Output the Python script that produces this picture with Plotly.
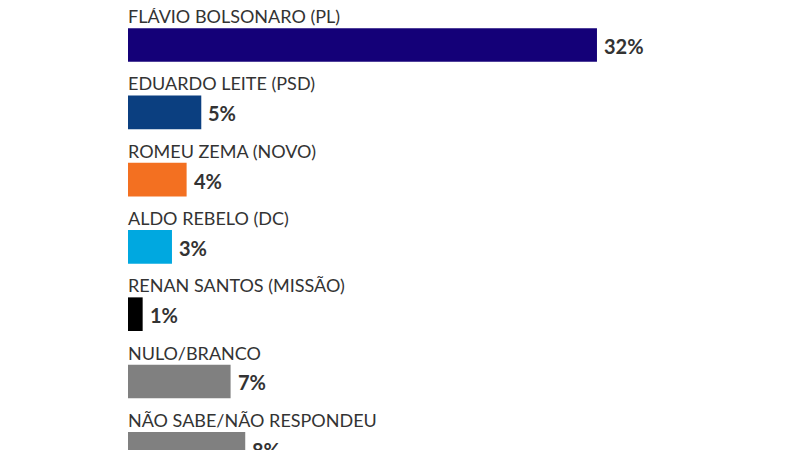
import plotly.graph_objects as go

candidates = ['FLÁVIO BOLSONARO (PL)', 'EDUARDO LEITE (PSD)', 'ROMEU ZEMA (NOVO)',
              'ALDO REBELO (DC)', 'RENAN SANTOS (MISSÃO)', 'NULO/BRANCO',
              'NÃO SABE/NÃO RESPONDEU']
votes = [32, 5, 4, 3, 1, 7, 8]
colors = ['#140078', '#0b3f80', '#f37021', '#00a8e0', '#000000', '#808080', '#808080']

pos = list(range(len(candidates)))
bar_w = 0.5

fig = go.Figure(go.Bar(
    x=votes, y=pos, orientation='h', width=bar_w,
    marker=dict(color=colors, line=dict(width=0)),
    hoverinfo='skip',
))

# name above each bar, value to the right
for i, (name, v) in enumerate(zip(candidates, votes)):
    fig.add_annotation(x=0, y=i - bar_w / 2, text=name, showarrow=False,
                       xanchor='left', yanchor='bottom', xshift=-1, yshift=0,
                       borderpad=0,
                       font=dict(family='Lato', size=18, color='#333333'))
    fig.add_annotation(x=v, y=i, text='<b>%d%%</b>' % v, showarrow=False,
                       xanchor='left', yanchor='middle', xshift=6, yshift=-1,
                       borderpad=0,
                       font=dict(family='Lato', size=20, color='#333333'))

fig.update_layout(
    width=800, height=450,
    margin=dict(l=120, r=0, t=0, b=0),
    plot_bgcolor='white', paper_bgcolor='white',
    showlegend=False,
    xaxis=dict(range=[0, 46.4], visible=False),
    yaxis=dict(range=[6.137, -0.550], visible=False),
)

fig.write_html("out.html")
